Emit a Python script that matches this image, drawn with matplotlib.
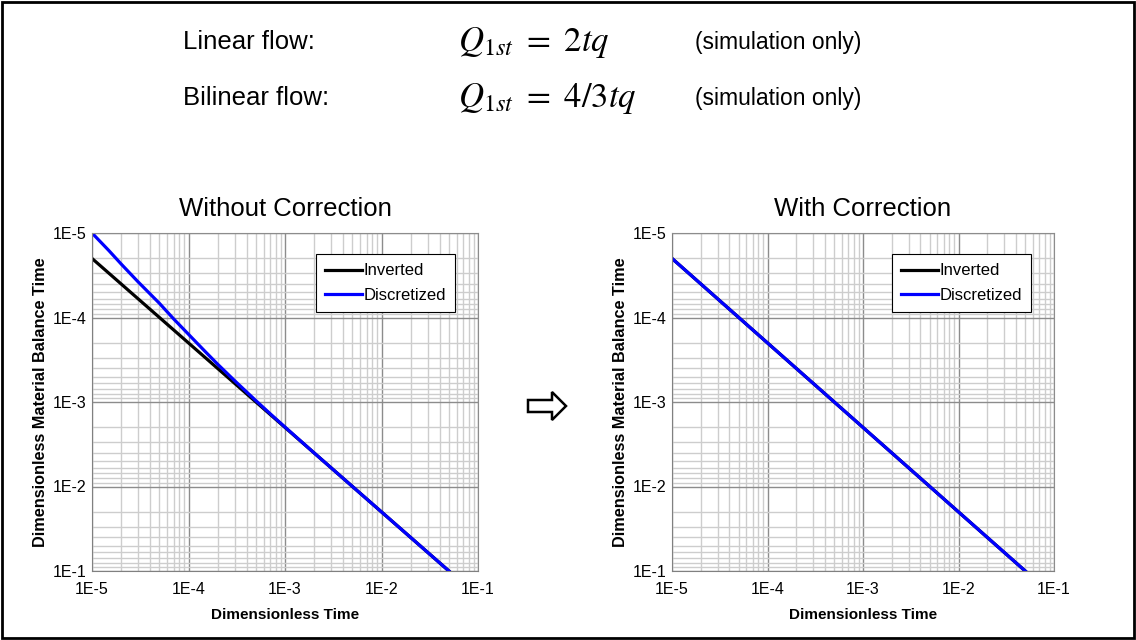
import matplotlib
matplotlib.use("Agg")
import matplotlib.pyplot as plt
from matplotlib.patches import Polygon, Rectangle
from matplotlib.ticker import LogLocator, FixedLocator, FixedFormatter, NullFormatter

plt.rcParams["font.family"] = ["Liberation Sans", "DejaVu Sans"]
plt.rcParams["mathtext.fontset"] = "stix"

# data
t_inverted = [1e-5, 1e-4, 1e-3, 1e-2, 5e-2]
tmb_inverted = [2e-5, 2e-4, 2e-3, 2e-2, 1e-1]

t_disc_raw = [1e-5, 1.5e-5, 2e-5, 3e-5, 5e-5, 7e-5, 1e-4, 1.5e-4, 2e-4, 3e-4, 5e-4, 7e-4,
              1e-3, 2e-3, 1e-2, 5e-2]
tmb_disc_raw = [1.0e-5, 1.62e-5, 2.32e-5, 3.78e-5, 6.8e-5, 1.036e-4, 1.58e-4, 2.55e-4, 3.56e-4,
                5.58e-4, 9.65e-4, 1.372e-3, 1.98e-3, 4.0e-3, 2e-2, 1e-1]

t_disc_corr = [1e-5, 1e-4, 1e-3, 1e-2, 5e-2]
tmb_disc_corr = [2e-5, 2e-4, 2e-3, 2e-2, 1e-1]

decades = [1e-5, 1e-4, 1e-3, 1e-2, 1e-1]
decade_labels = ["1E-5", "1E-4", "1E-3", "1E-2", "1E-1"]

W, H = 1136, 640
fig = plt.figure(figsize=(W / 100, H / 100), dpi=100)


def px(x0, y0, x1, y1):
    # pixel box -> figure fraction [left, bottom, width, height]
    return [x0 / W, 1 - y1 / H, (x1 - x0) / W, (y1 - y0) / H]


def make_panel(rect, title, t_disc, tmb_disc):
    ax = fig.add_axes(rect)
    ax.set_xscale("log")
    ax.set_yscale("log")
    ax.set_xlim(1e-5, 1e-1)
    ax.set_ylim(1e-1, 1e-5)

    for axis in (ax.xaxis, ax.yaxis):
        axis.set_major_locator(FixedLocator(decades))
        axis.set_major_formatter(FixedFormatter(decade_labels))
        axis.set_minor_locator(LogLocator(base=10, subs=range(2, 10), numticks=20))
        axis.set_minor_formatter(NullFormatter())
    ax.grid(True, which="major", color="#8c8c8c", linewidth=1.0)
    ax.grid(True, which="minor", color="#cdcdcd", linewidth=1.0)
    ax.set_axisbelow(True)
    ax.tick_params(which="both", length=0, labelsize=11.5)
    ax.tick_params(axis="x", pad=8)
    ax.tick_params(axis="y", pad=4)
    for side in ("top", "right"):
        ax.spines[side].set_color("#8c8c8c")
    for side in ("left", "bottom"):
        ax.spines[side].set_color("#808080")

    ax.plot(t_inverted, tmb_inverted, color="black", lw=2.3, label="Inverted")
    ax.plot(t_disc, tmb_disc, color="#0000ff", lw=2.3, label="Discretized")

    ax.set_xlabel("Dimensionless Time", fontsize=11, fontweight="bold", labelpad=8)
    ax.set_ylabel("Dimensionless Material Balance Time", fontsize=11.7, fontweight="bold",
                  labelpad=3)
    ax.set_title(title, fontsize=18.5, pad=12)

    leg = ax.legend(loc="upper right", fontsize=12, frameon=True, fancybox=False,
                    edgecolor="black", framealpha=1, handlelength=2.2, handletextpad=0.1,
                    borderpad=0.55, labelspacing=0.55, bbox_to_anchor=(0.962, 0.962))
    leg.get_frame().set_linewidth(0.8)
    return ax


make_panel(px(92, 233, 478, 571), "Without Correction", t_disc_raw, tmb_disc_raw)
make_panel(px(672, 233, 1054, 571), "With Correction", t_disc_corr, tmb_disc_corr)

# header text
rows = [(42, "Linear flow:", r"$Q_{1st}\ =\ 2tq$"),
        (98, "Bilinear flow:", r"$Q_{1st}\ =\ 4/3tq$")]
for y, name, eq in rows:
    fig.text(183 / W, 1 - y / H, name, fontsize=18.5, va="center", ha="left")
    fig.text(458 / W, 1 - y / H, eq, fontsize=25, va="center", ha="left")
    fig.text(695 / W, 1 - y / H, "(simulation only)", fontsize=16.5, va="center", ha="left")

# hollow arrow between the panels
arrow_px = [(528, 400), (552, 400), (552, 392), (566, 406), (552, 420), (552, 412), (528, 412)]
fig.add_artist(Polygon([(x / W, 1 - y / H) for x, y in arrow_px], closed=True,
                       facecolor="white", edgecolor="black", linewidth=1.8,
                       transform=fig.transFigure))

# outer frame
fig.add_artist(Rectangle((2 / W, 2 / H), 1 - 4 / W, 1 - 4 / H, fill=False,
                         edgecolor="black", linewidth=2, transform=fig.transFigure))

fig.savefig("out.png", dpi=100)
